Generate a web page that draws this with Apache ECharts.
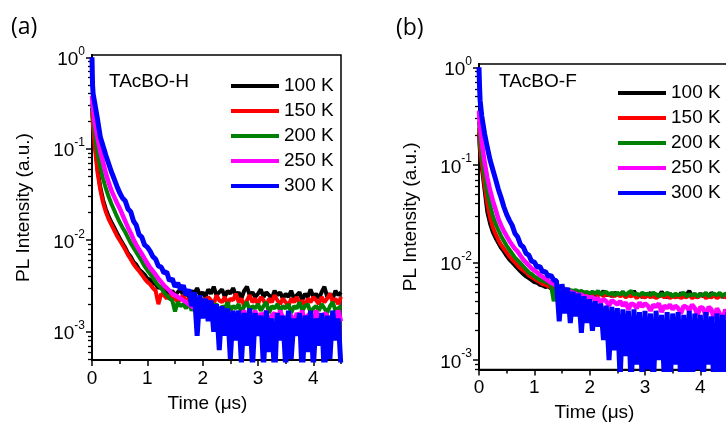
<!DOCTYPE html>
<html><head><meta charset="utf-8">
<script src="https://cdn.jsdelivr.net/npm/echarts@6/dist/echarts.min.js"></script>
<style>html,body{margin:0;padding:0;background:#fff}#c{width:726px;height:428px}</style>
</head><body><div id="c"></div>
<script>
// ---- data (time in µs, PL intensity normalised) ----
const time = [0, 0.01, 0.02,
 0.05,0.1,0.15,0.2,0.25,0.3,0.35,0.4,0.45,0.5,
 0.55,0.6,0.65,0.7,0.75,0.8,0.85,0.9,0.95,1.0,
 1.05,1.1,1.15,1.2,1.25,1.3,1.35,1.4,1.45,1.5,
 1.55,1.6,1.65,1.7,1.75,1.8,1.85,1.9,1.95,2.0,
 2.05,2.1,2.15,2.2,2.25,2.3,2.35,2.4,2.45,2.5,
 2.55,2.6,2.65,2.7,2.75,2.8,2.85,2.9,2.95,3.0,
 3.05,3.1,3.15,3.2,3.25,3.3,3.35,3.4,3.45,3.5,
 3.55,3.6,3.65,3.7,3.75,3.8,3.85,3.9,3.95,4.0,
 4.05,4.1,4.15,4.2,4.25,4.3,4.35,4.4,4.45,4.5];

const seriesNames = ['100 K','150 K','200 K','250 K','300 K'];
const panelLabels = ['(a)','(b)'];
const sampleNames = ['TAcBO-H','TAcBO-F'];
const xTickValues = [0,1,2,3,4];
const xMinorValues = [0.5,1.5,2.5,3.5,4.5];
const yTickValues = [0.001,0.01,0.1,1];
const yMinorValues = [0.0005,0.0006,0.0007,0.0008,0.0009,
 0.002,0.003,0.004,0.005,0.006,0.007,0.008,0.009,
 0.02,0.03,0.04,0.05,0.06,0.07,0.08,0.09,
 0.2,0.3,0.4,0.5,0.6,0.7,0.8,0.9];

// Panel (a) TAcBO-H
const a100 = [0.28, 0.24, 0.20,
 0.12, 0.060, 0.038, 0.0275, 0.0219, 0.0182, 0.0158, 0.0138, 0.0120, 0.0105,
 0.0093, 0.0083, 0.0072, 0.0066, 0.0058, 0.0054, 0.0048, 0.0045, 0.0042, 0.0038,
 0.0037, 0.0034, 0.0033, 0.0030, 0.0031, 0.0028, 0.0028, 0.0026, 0.0028, 0.0025,
 0.0027, 0.0029, 0.0025, 0.0027, 0.0024, 0.0028, 0.0026, 0.0030, 0.0025, 0.0027,
 0.0024, 0.0029, 0.0026, 0.0031, 0.0025, 0.0027, 0.0029, 0.0024, 0.0028, 0.0026,
 0.0030, 0.0025, 0.0027, 0.0023, 0.0028, 0.0031, 0.0025, 0.0027, 0.0024, 0.0026,
 0.0029, 0.0024, 0.0027, 0.0025, 0.0023, 0.0028, 0.0025, 0.0027, 0.0023, 0.0026,
 0.0024, 0.0028, 0.0023, 0.0025, 0.0027, 0.0022, 0.0026, 0.0024, 0.0029, 0.0024,
 0.0026, 0.0023, 0.0027, 0.0031, 0.0024, 0.0026, 0.0023, 0.0028, 0.0025, 0.0027];
const a150 = [0.25, 0.21, 0.174,
 0.107, 0.055, 0.0355, 0.0257, 0.0204, 0.0170, 0.0148, 0.0129, 0.0112, 0.0100,
 0.0089, 0.0079, 0.0069, 0.0062, 0.0055, 0.0050, 0.0046, 0.0042, 0.0038, 0.0035,
 0.0033, 0.0030, 0.0028, 0.0020, 0.0026, 0.0025, 0.0023, 0.0025, 0.0022, 0.0024,
 0.0021, 0.0023, 0.0025, 0.0021, 0.0023, 0.0020, 0.0024, 0.0022, 0.0019, 0.0023,
 0.0021, 0.0024, 0.0022, 0.0020, 0.0025, 0.0022, 0.0021, 0.0024, 0.0020, 0.0023,
 0.0022, 0.0026, 0.0021, 0.0023, 0.0019, 0.0022, 0.0025, 0.0021, 0.0023, 0.0020,
 0.0024, 0.0022, 0.0019, 0.0023, 0.0021, 0.0025, 0.0022, 0.0020, 0.0023, 0.0021,
 0.0019, 0.0023, 0.0021, 0.0024, 0.0020, 0.0022, 0.0019, 0.0023, 0.0021, 0.0024,
 0.0022, 0.0020, 0.0024, 0.0021, 0.0023, 0.0026, 0.0021, 0.0023, 0.0020, 0.0024];
const a200 = [0.316, 0.263, 0.224,
 0.151, 0.089, 0.063, 0.047, 0.037, 0.030, 0.025, 0.0214, 0.0182, 0.0158,
 0.0138, 0.0123, 0.0107, 0.0093, 0.0083, 0.0074, 0.0066, 0.0059, 0.0052, 0.0047,
 0.0043, 0.0039, 0.0035, 0.0032, 0.0030, 0.0027, 0.0025, 0.0023, 0.0022, 0.00166,
 0.0021, 0.0019, 0.0020, 0.0018, 0.0021, 0.0017, 0.0020, 0.0019, 0.0017, 0.0020,
 0.0018, 0.0021, 0.0017, 0.0019, 0.0020, 0.0016, 0.0019, 0.0018, 0.0021, 0.0017,
 0.0019, 0.0018, 0.0020, 0.0016, 0.0019, 0.0021, 0.0017, 0.0019, 0.0018, 0.0020,
 0.0017, 0.0019, 0.0021, 0.0016, 0.0019, 0.0018, 0.0020, 0.0017, 0.0019, 0.0018,
 0.0020, 0.0016, 0.0019, 0.0018, 0.0021, 0.0017, 0.0019, 0.0020, 0.0016, 0.0018,
 0.0019, 0.0017, 0.0020, 0.0018, 0.0016, 0.0019, 0.0021, 0.0017, 0.0018, 0.0019];
const a250 = [0.38, 0.316, 0.27,
 0.19, 0.132, 0.093, 0.071, 0.054, 0.043, 0.035, 0.030, 0.0257, 0.0224,
 0.0190, 0.0162, 0.0138, 0.0120, 0.0102, 0.0089, 0.0079, 0.0071, 0.0063, 0.0056,
 0.0050, 0.0046, 0.0042, 0.0038, 0.0035, 0.0032, 0.0030, 0.0028, 0.0026, 0.0025,
 0.0024, 0.0023, 0.0022, 0.0021, 0.0020, 0.0019, 0.0018, 0.0019, 0.0017, 0.0018,
 0.0016, 0.0018, 0.0015, 0.0017, 0.0014, 0.0017, 0.0016, 0.0013, 0.0017, 0.0015,
 0.0016, 0.0012, 0.0016, 0.0015, 0.0017, 0.0013, 0.0016, 0.0014, 0.0017, 0.0012,
 0.0016, 0.0014, 0.0017, 0.0011, 0.0015, 0.0016, 0.0013, 0.0017, 0.0014, 0.0012,
 0.0016, 0.0015, 0.0011, 0.0016, 0.0014, 0.0017, 0.0012, 0.0015, 0.0016, 0.0013,
 0.0017, 0.0014, 0.0011, 0.0016, 0.0015, 0.0012, 0.0016, 0.0014, 0.0017, 0.0013];
const a300 = [1.0, 0.5, 0.4,
 0.316, 0.21, 0.135, 0.107, 0.085, 0.069, 0.056, 0.047, 0.039, 0.033,
 0.029, 0.027, 0.022, 0.0205, 0.0162, 0.0146, 0.0115, 0.0108, 0.0089, 0.0084,
 0.0076, 0.0066, 0.0062, 0.0052, 0.0051, 0.0044, 0.0045, 0.0036, 0.0038, 0.0031,
 0.0034, 0.0029, 0.0032, 0.0025, 0.0029, 0.0019, 0.0027, 0.0009, 0.0025, 0.0014,
 0.0023, 0.0013, 0.0022, 0.0010, 0.0020, 0.00063, 0.0019, 0.0009, 0.0018, 0.0005,
 0.0017, 0.0008, 0.0017, 0.00045, 0.0016, 0.0007, 0.0018, 0.0004, 0.0016, 0.0009,
 0.0015, 0.0004, 0.0017, 0.0006, 0.0014, 0.0003, 0.0016, 0.0008, 0.0015, 0.0004,
 0.0017, 0.0005, 0.0014, 0.0009, 0.0016, 0.0003, 0.0015, 0.0006, 0.0017, 0.0004,
 0.0014, 0.0007, 0.0016, 0.0003, 0.0015, 0.0005, 0.0017, 0.0008, 0.0014, 0.0004];

// Panel (b) TAcBO-F
const b100 = [0.214, 0.158, 0.132,
 0.095, 0.056, 0.033, 0.025, 0.0204, 0.0178, 0.0158, 0.0141, 0.0129, 0.0117,
 0.0107, 0.0100, 0.0093, 0.0087, 0.0081, 0.0076, 0.0072, 0.0069, 0.0066, 0.0063,
 0.0062, 0.0059, 0.0058, 0.0056, 0.0057, 0.0054, 0.0055, 0.0052, 0.0053, 0.0051,
 0.0052, 0.0050, 0.0051, 0.0049, 0.0051, 0.0048, 0.0050, 0.0047, 0.0049, 0.0048,
 0.0050, 0.0046, 0.0049, 0.0047, 0.0051, 0.0046, 0.0048, 0.0045, 0.0049, 0.0047,
 0.0046, 0.0050, 0.0045, 0.0048, 0.0046, 0.0051, 0.0045, 0.0047, 0.0044, 0.0048,
 0.0046, 0.0049, 0.0044, 0.0047, 0.0045, 0.0050, 0.0046, 0.0044, 0.0048, 0.0045,
 0.0047, 0.0044, 0.0049, 0.0045, 0.0047, 0.0051, 0.0045, 0.0047, 0.0044, 0.0048,
 0.0045, 0.0047, 0.0044, 0.0049, 0.0046, 0.0045, 0.0048, 0.0044, 0.0047, 0.0045];
const b150 = [0.24, 0.182, 0.148,
 0.105, 0.063, 0.040, 0.029, 0.0229, 0.0195, 0.0170, 0.0151, 0.0138, 0.0126,
 0.0115, 0.0107, 0.0100, 0.0093, 0.0087, 0.0083, 0.0079, 0.0074, 0.0071, 0.0068,
 0.0065, 0.0063, 0.0060, 0.0059, 0.0057, 0.0056, 0.0055, 0.0054, 0.0053, 0.0053,
 0.0052, 0.0051, 0.0050, 0.0051, 0.0049, 0.0050, 0.0048, 0.0049, 0.0047, 0.0049,
 0.0047, 0.0049, 0.0046, 0.0048, 0.0045, 0.0048, 0.0046, 0.0047, 0.0045, 0.0048,
 0.0045, 0.0047, 0.0044, 0.0046, 0.0045, 0.0047, 0.0043, 0.0046, 0.0045, 0.0044,
 0.0046, 0.0044, 0.0047, 0.0043, 0.0045, 0.0046, 0.0044, 0.0046, 0.0043, 0.0045,
 0.0044, 0.0046, 0.0043, 0.0045, 0.0044, 0.0047, 0.0043, 0.0045, 0.0044, 0.0046,
 0.0047, 0.0043, 0.0045, 0.0044, 0.0046, 0.0043, 0.0045, 0.0047, 0.0044, 0.0045];
const b200 = [0.28, 0.22, 0.182,
 0.126, 0.079, 0.052, 0.039, 0.030, 0.025, 0.0214, 0.0186, 0.0166, 0.0148,
 0.0135, 0.0123, 0.0112, 0.0105, 0.0098, 0.0091, 0.0085, 0.0079, 0.0076, 0.0072,
 0.0069, 0.0066, 0.0065, 0.0063, 0.0062, 0.0059, 0.0040, 0.0057, 0.0056, 0.0055,
 0.0054, 0.0053, 0.0052, 0.0051, 0.0052, 0.0050, 0.0051, 0.0049, 0.0050, 0.0048,
 0.0050, 0.0048, 0.0051, 0.0047, 0.0049, 0.0050, 0.0047, 0.0049, 0.0046, 0.0049,
 0.0047, 0.0050, 0.0046, 0.0049, 0.0051, 0.0047, 0.0048, 0.0046, 0.0049, 0.0047,
 0.0048, 0.0046, 0.0049, 0.0047, 0.0045, 0.0048, 0.0046, 0.0049, 0.0047, 0.0045,
 0.0048, 0.0046, 0.0047, 0.0049, 0.0045, 0.0047, 0.0046, 0.0048, 0.0045, 0.0047,
 0.0046, 0.0049, 0.0045, 0.0047, 0.0048, 0.0046, 0.0049, 0.0045, 0.0048, 0.0047];
const b250 = [0.36, 0.28, 0.24,
 0.17, 0.107, 0.074, 0.055, 0.043, 0.035, 0.028, 0.024, 0.0209, 0.0186,
 0.0166, 0.0151, 0.0138, 0.0129, 0.0117, 0.0107, 0.0100, 0.0093, 0.0087, 0.0083,
 0.0079, 0.0074, 0.0071, 0.0068, 0.0065, 0.0062, 0.0060, 0.0058, 0.0056, 0.0055,
 0.0053, 0.0052, 0.0050, 0.0049, 0.0048, 0.0046, 0.0047, 0.0044, 0.0045, 0.0043,
 0.0044, 0.0041, 0.0043, 0.0039, 0.0042, 0.0040, 0.0036, 0.0041, 0.0039, 0.0037,
 0.0040, 0.0036, 0.0039, 0.0033, 0.0038, 0.0037, 0.0034, 0.0039, 0.0035, 0.0038,
 0.0036, 0.0032, 0.0037, 0.0035, 0.0038, 0.0031, 0.0036, 0.0034, 0.0037, 0.0033,
 0.0036, 0.0034, 0.0030, 0.0036, 0.0035, 0.0032, 0.0037, 0.0034, 0.0029, 0.0035,
 0.0034, 0.0028, 0.0035, 0.0033, 0.0026, 0.0034, 0.0030, 0.0025, 0.0033, 0.0027];
const b300 = [1.0, 0.63, 0.46,
 0.316, 0.21, 0.151, 0.112, 0.089, 0.071, 0.056, 0.046, 0.037, 0.031,
 0.027, 0.0240, 0.0198, 0.0182, 0.0152, 0.0144, 0.0124, 0.0119, 0.0103, 0.0101,
 0.0090, 0.0091, 0.0080, 0.0081, 0.0072, 0.0074, 0.0066, 0.0065, 0.0025, 0.0060,
 0.0030, 0.0055, 0.0024, 0.0050, 0.0028, 0.0048, 0.0019, 0.0045, 0.0024, 0.0042,
 0.0020, 0.0040, 0.0022, 0.0038, 0.0016, 0.0036, 0.0010, 0.0035, 0.00126, 0.0034,
 0.00063, 0.0033, 0.0011, 0.0032, 0.0005, 0.0033, 0.0009, 0.0031, 0.0006, 0.0032,
 0.0008, 0.0030, 0.0005, 0.0032, 0.0010, 0.0029, 0.0006, 0.0031, 0.0004, 0.0030,
 0.0009, 0.0031, 0.0005, 0.0029, 0.0007, 0.0032, 0.0004, 0.0030, 0.0008, 0.0029,
 0.0005, 0.0031, 0.0009, 0.0028, 0.0004, 0.0030, 0.0007, 0.0029, 0.0005, 0.0031];

const panelA = [a100, a150, a200, a250, a300];
const panelB = [b100, b150, b200, b250, b300];

// ---- styling ----
const colors = ['#000000','#ff0000','#008000','#ff00ff','#0000ff'];
const lineWidths = [4, 4, 4, 4.5, 5];
const F = 'Liberation Sans, Arial, sans-serif';
const grids = [
  {left: 92, top: 55, width: 249, height: 305, yMin: 0.00049, yMax: 1.06, legendLeft: 226, legendTop: 71},
  {left: 479, top: 64, width: 249, height: 305.5, yMin: 0.0008, yMax: 1.08, legendLeft: 613, legendTop: 78}
];

const chart = echarts.init(document.getElementById('c'), null, {renderer: 'canvas'});
const xAxes = [], yAxes = [], series = [], legends = [];
grids.forEach((g, gi) => {
  xAxes.push({
    type: 'value', gridIndex: gi, min: 0, max: 4.5, position: 'bottom',
    axisLine: {show: true, onZero: false, lineStyle: {color: '#000', width: 2}},
    axisTick: {show: true, customValues: xTickValues, length: 6, lineStyle: {color: '#000', width: 1.5}},
    axisLabel: {customValues: xTickValues, margin: 9, fontSize: 19, fontFamily: F, color: '#000'},
    splitLine: {show: false},
    name: 'Time (\u03bcs)', nameLocation: 'middle', nameGap: 34, nameMoveOverlap: false,
    nameTextStyle: {fontSize: 19, fontFamily: F, color: '#000', padding: [0, 18, 0, 0]}
  });
  xAxes.push({
    type: 'value', gridIndex: gi, min: 0, max: 4.5, position: 'bottom',
    axisLine: {show: true, onZero: false, lineStyle: {color: '#000', width: 2}},
    axisTick: {show: true, customValues: xMinorValues, length: 4, lineStyle: {color: '#000', width: 1.5}},
    axisLabel: {show: false}, splitLine: {show: false}
  });
  yAxes.push({
    type: 'log', logBase: 10, gridIndex: gi, min: g.yMin, max: g.yMax, position: 'left',
    axisLine: {show: true, onZero: false, lineStyle: {color: '#000', width: 2}},
    axisTick: {show: true, customValues: yTickValues, length: 6, lineStyle: {color: '#000', width: 1.5}},
    axisLabel: {
      customValues: yTickValues, margin: 7,
      formatter: v => '{b|10}{s|' + Math.round(Math.log10(v)) + '}',
      rich: {
        b: {fontSize: 19, fontFamily: F, color: '#000', padding: [5, 0, 0, 0]},
        s: {fontSize: 12, fontFamily: F, color: '#000', verticalAlign: 'top'}
      }
    },
    splitLine: {show: false},
    name: 'PL Intensity (a.u.)', nameLocation: 'middle', nameGap: 59, nameMoveOverlap: false,
    nameTextStyle: {fontSize: 19, fontFamily: F, color: '#000'}
  });
  yAxes.push({
    type: 'log', logBase: 10, gridIndex: gi, min: g.yMin, max: g.yMax, position: 'left',
    axisLine: {show: true, onZero: false, lineStyle: {color: '#000', width: 2}},
    axisTick: {show: true, customValues: yMinorValues, length: 4, lineStyle: {color: '#000', width: 1.3}},
    axisLabel: {show: false}, splitLine: {show: false}
  });
  const data = gi === 0 ? panelA : panelB;
  data.forEach((arr, si) => {
    series.push({
      type: 'line', name: seriesNames[si], xAxisIndex: gi * 2, yAxisIndex: gi * 2,
      data: time.map((t, i) => [t, arr[i]]),
      symbol: 'none', showSymbol: false, clip: true,
      lineStyle: {width: lineWidths[si], color: colors[si], join: 'bevel'}, itemStyle: {color: colors[si]},
      emphasis: {disabled: true}
    });
  });
  legends.push({
    data: seriesNames, orient: 'vertical', left: g.legendLeft, top: g.legendTop,
    icon: 'rect', itemWidth: 48, itemHeight: 4, itemGap: 5,
    selectedMode: false,
    textStyle: {fontSize: 19, lineHeight: 20, fontFamily: F, color: '#000'}
  });
});

chart.setOption({
  animation: false,
  backgroundColor: '#fff',
  color: colors,
  grid: grids.map(g => ({left: g.left, top: g.top, width: g.width, height: g.height,
    show: true, borderColor: '#000', borderWidth: 1.5, backgroundColor: 'transparent',
    containLabel: false, outerBoundsMode: 'none'})),
  xAxis: xAxes, yAxis: yAxes, series: series, legend: legends,
  graphic: [
    {type: 'text', x: 11, y: 27, style: {text: panelLabels[0], fontSize: 23, fontFamily: 'Open Sans', fill: '#000', verticalAlign: 'middle'}},
    {type: 'text', x: 396, y: 28, style: {text: panelLabels[1], fontSize: 23, fontFamily: 'Open Sans', fill: '#000', verticalAlign: 'middle'}},
    {type: 'text', x: 109, y: 82, style: {text: sampleNames[0], fontSize: 19, fontFamily: F, fill: '#000', verticalAlign: 'middle'}},
    {type: 'text', x: 499, y: 82, style: {text: sampleNames[1], fontSize: 19, fontFamily: F, fill: '#000', verticalAlign: 'middle'}}
  ]
});
</script></body></html>
